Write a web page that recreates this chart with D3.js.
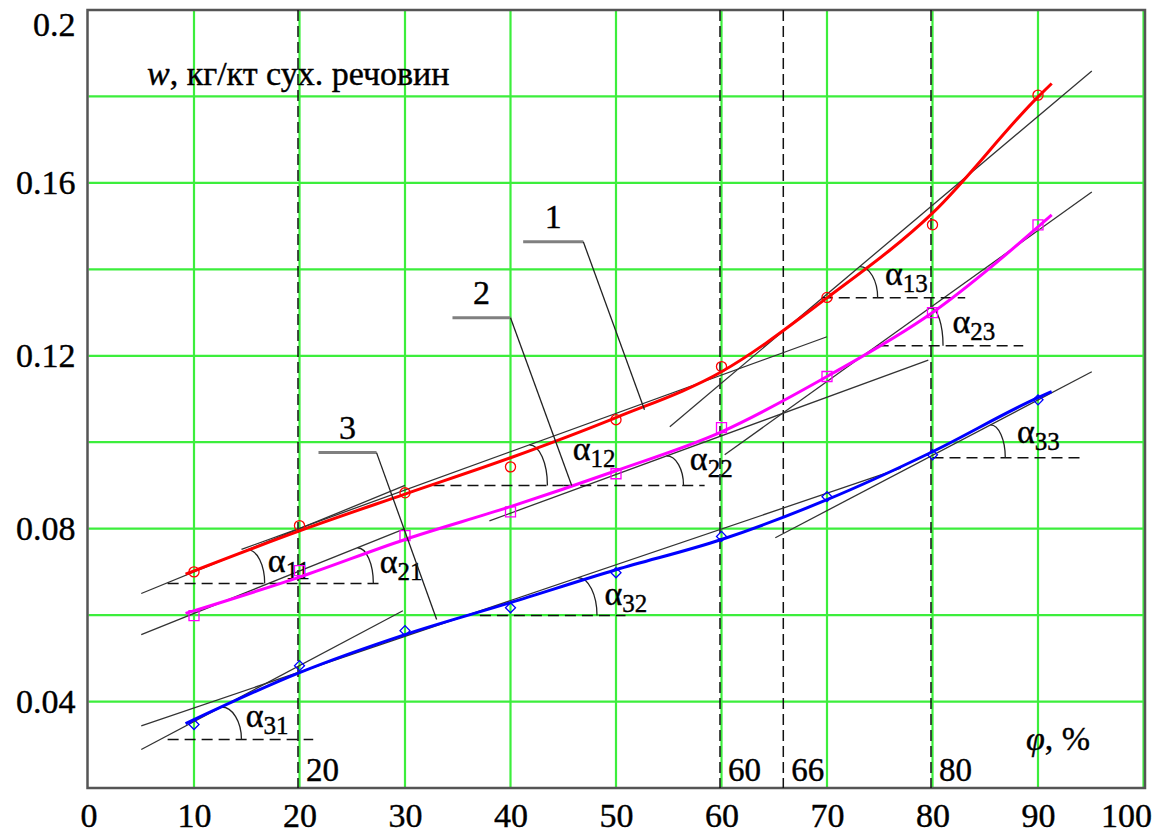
<!DOCTYPE html>
<html>
<head>
<meta charset="utf-8">
<title></title>
<style>
    body { margin: 0; background: #fff; }
    svg text { font-family: "Liberation Serif", Tinos, "Times New Roman", Times, "DejaVu Serif", serif !important; fill: #000; stroke: #000; stroke-width: 0.4px; }
    .tick text { font-size: 34px; }
</style>
</head>
<body>
<script src="https://cdnjs.cloudflare.com/ajax/libs/d3/7.8.5/d3.min.js"></script>
<script>

var w = 1156;
var h = 836;

// humidity phi, % (every curve is measured at the same points)
var phi = [10, 20, 30, 40, 50, 60, 70, 80, 90];
// measured points (markers)
var w1 = [0.070, 0.0807, 0.0883, 0.0943, 0.1052, 0.1175, 0.1335, 0.1503, 0.1803];
var w2 = [0.0599, 0.0703, 0.0784, 0.0839, 0.0927, 0.1034, 0.1152, 0.1300, 0.1503];
var w3 = [0.0347, 0.0483, 0.0564, 0.0617, 0.0698, 0.0782, 0.0874, 0.0971, 0.1098];

// smoothed curves
var curvePhi = [9.2, 20, 30, 40, 50, 60, 70, 80, 90, 91.3];
var curve1 = [0.0695, 0.0795, 0.0880, 0.0964, 0.1057, 0.1163, 0.1334, 0.1530, 0.1799, 0.1830];
var curve2 = [0.0604, 0.0688, 0.0775, 0.0851, 0.0934, 0.1024, 0.1152, 0.1300, 0.1498, 0.1526];
var curve3 = [0.0349, 0.0467, 0.0555, 0.0629, 0.0705, 0.0775, 0.0867, 0.0978, 0.1103, 0.1117];

// tangent lines [phi1, w1, phi2, w2]
var tangentNames = ["11", "12", "13", "21", "22", "23", "31", "32", "33"];
var tangentLines = [
    [5, 0.0650, 30, 0.0900],
    [14.5, 0.0752, 70, 0.1244],
    [55.1, 0.1036, 95.1, 0.1859],
    [5, 0.0555, 30, 0.0800],
    [38, 0.0818, 79.6, 0.1190],
    [60.3, 0.0971, 95.1, 0.1579],
    [5, 0.0289, 29.8, 0.0610],
    [5, 0.0344, 77, 0.0940],
    [65.1, 0.0779, 95.1, 0.1163]
];

// angle marks: base level, dashed from / to, arc foot, arc top (on tangent), label phi / w
var angleBase = [0.0673, 0.0900, 0.1334, 0.0673, 0.0900, 0.1223, 0.0312, 0.0599, 0.0964];
var angleDash = [[7.5, 20], [32.7, 45], [69.5, 83.1], [20, 27.9], [45, 58.4], [74.8, 88.6], [7.5, 21.3], [37.1, 50.9], [80, 94]];
var arcFoot = [16.7, 43.5, 74.8, 27.0, 56.4, 81.0, 14.5, 48.2, 86.9];
var arcTop = [15.1, 41.8, 73.1, 25.5, 54.8, 79.8, 12.6, 46.4, 85.5];
var angleLabelPos = [[17.0, 0.0699], [45.9, 0.0959], [75.5, 0.1364], [27.6, 0.0697], [57.0, 0.0936], [81.9, 0.1253], [14.9, 0.0340], [48.9, 0.0624], [88.0, 0.0999]];

// boundaries of regions
var boundaries = [20, 60, 66, 80];

// curve number leaders: [shelf start phi, shelf end phi, shelf w, end phi, end w]
var leaderNames = ["1", "2", "3"];
var leaders = [
    [41.2, 46.9, 0.1464, 52.7, 0.1075],
    [34.5, 40.0, 0.1288, 45.8, 0.0900],
    [21.8, 27.3, 0.0976, 33.0, 0.0590]
];

var xTicks = [0, 10, 20, 30, 40, 50, 60, 70, 80, 90, 100];
var yGrid = [0.04, 0.06, 0.08, 0.10, 0.12, 0.14, 0.16, 0.18, 0.20];
var yTicks = [0.04, 0.08, 0.12, 0.16, 0.2];
var yTickText = ["0.04", "0.08", "0.12", "0.16", "0.2"];

var svg = d3.select("body")
            .append("svg")
            .attr("width", w)
            .attr("height", h)
            .attr("font-family", "Liberation Serif, serif");

var xScale = d3.scaleLinear()
               .domain([0, 100])
               .range([88.5, 1143.5]);

var yScale = d3.scaleLinear()
               .domain([0.02, 0.2])
               .range([788, 10]);

// grid
svg.append("g")
    .selectAll("line")
    .data(xTicks.slice(1))
    .enter()
    .append("line")
    .attr("x1", function(d) { return xScale(d); })
    .attr("x2", function(d) { return xScale(d); })
    .attr("y1", yScale(0.2))
    .attr("y2", yScale(0.02))
    .attr("stroke", "#3cee3c")
    .attr("stroke-width", 2.2);

svg.append("g")
    .selectAll("line")
    .data(yGrid)
    .enter()
    .append("line")
    .attr("x1", xScale(0))
    .attr("x2", xScale(100))
    .attr("y1", function(d) { return yScale(d); })
    .attr("y2", function(d) { return yScale(d); })
    .attr("stroke", "#3cee3c")
    .attr("stroke-width", 2.2);

// frame
svg.append("rect")
    .attr("x", xScale(0) - 1)
    .attr("y", yScale(0.2))
    .attr("width", xScale(100) - xScale(0) + 2.5)
    .attr("height", yScale(0.02) - yScale(0.2))
    .attr("fill", "none")
    .attr("stroke", "#555")
    .attr("stroke-width", 2.5);

// axes (labels only)
var xAxis = d3.axisBottom(xScale).tickValues(xTicks).tickSize(0).tickPadding(15);
var gx = svg.append("g")
    .attr("class", "x axis")
    .attr("transform", "translate(0," + yScale(0.02) + ")")
    .call(xAxis);
gx.select(".domain").remove();
gx.attr("font-family", null);
// last label would run past the edge
gx.selectAll(".tick text")
    .filter(function(d) { return d === 100; })
    .attr("text-anchor", "end")
    .attr("x", 8);

var yAxis = d3.axisLeft(yScale).tickValues(yTicks).tickSize(0).tickPadding(13)
    .tickFormat(function(d, i) { return yTickText[i]; });
var gy = svg.append("g")
    .attr("class", "y axis")
    .attr("transform", "translate(" + xScale(0) + ",0)")
    .call(yAxis);
gy.select(".domain").remove();
gy.attr("font-family", null);
// top label would be cut off, it sits below its line
gy.selectAll(".tick text")
    .filter(function(d) { return d === 0.2; })
    .attr("y", 15);

// region boundaries
var gb = svg.append("g").attr("transform", "translate(-1.5,0)");
gb.selectAll("line")
    .data(boundaries)
    .enter()
    .append("line")
    .attr("x1", function(d) { return xScale(d); })
    .attr("x2", function(d) { return xScale(d); })
    .attr("y1", yScale(0.2))
    .attr("y2", yScale(0.02))
    .attr("stroke", "#111")
    .attr("stroke-width", 1.5)
    .attr("stroke-dasharray", "11,5");
gb.selectAll("text")
    .data(boundaries)
    .enter()
    .append("text")
    .attr("x", function(d) { return xScale(d) + 8; })
    .attr("y", 781)
    .attr("font-size", 33)
    .text(function(d) { return d; });

// tangents
svg.append("g")
    .selectAll("line")
    .data(tangentLines)
    .enter()
    .append("line")
    .attr("x1", function(d) { return xScale(d[0]); })
    .attr("y1", function(d) { return yScale(d[1]); })
    .attr("x2", function(d) { return xScale(d[2]); })
    .attr("y2", function(d) { return yScale(d[3]); })
    .attr("stroke", "#333")
    .attr("stroke-width", 1.3);

// angle marks
function onTangent(i, p) {
    var t = tangentLines[i];
    return t[1] + (p - t[0]) * (t[3] - t[1]) / (t[2] - t[0]);
}

var ga = svg.append("g");
angleBase.forEach(function(b, i) {
    ga.append("line")
        .attr("x1", xScale(angleDash[i][0]))
        .attr("x2", xScale(angleDash[i][1]))
        .attr("y1", yScale(b))
        .attr("y2", yScale(b))
        .attr("stroke", "#111")
        .attr("stroke-width", 1.5)
        .attr("stroke-dasharray", "11,6");

    var fx = xScale(arcFoot[i]), fy = yScale(b);
    var tx = xScale(arcTop[i]), ty = yScale(onTangent(i, arcTop[i]));
    ga.append("path")
        .attr("d", "M" + fx + "," + fy + " A" + (fx - tx) + "," + (fy - ty) + " 0 0 0 " + tx + "," + ty)
        .attr("fill", "none")
        .attr("stroke", "#222")
        .attr("stroke-width", 1.3);

    var t = ga.append("text")
        .attr("x", xScale(angleLabelPos[i][0]))
        .attr("y", yScale(angleLabelPos[i][1]))
        .attr("font-size", 34);
    t.append("tspan").text("α");
    t.append("tspan").attr("dy", 7).attr("font-size", 25).text(tangentNames[i]);
});

// curves
var line = d3.line()
    .x(function(d) { return xScale(d[0]); })
    .y(function(d) { return yScale(d[1]); })
    .curve(d3.curveMonotoneX);

var series = [
    { c: curve1, m: w1, color: "#ff0000", shape: "circle" },
    { c: curve2, m: w2, color: "#ff00ff", shape: "square" },
    { c: curve3, m: w3, color: "#0000ff", shape: "diamond" }
];

series.forEach(function(s) {
    svg.append("path")
        .datum(curvePhi.map(function(p, i) { return [p, s.c[i]]; }))
        .attr("d", line)
        .attr("fill", "none")
        .attr("stroke", s.color)
        .attr("stroke-width", 3);
});

var symbolType = { circle: d3.symbolCircle, square: d3.symbolSquare, diamond: d3.symbolSquare };
var symbolSize = { circle: 80, square: 100, diamond: 50 };

series.forEach(function(s) {
    svg.append("g")
        .selectAll("path")
        .data(phi.map(function(p, i) { return [p, s.m[i]]; }))
        .enter()
        .append("path")
        .attr("d", d3.symbol().type(symbolType[s.shape]).size(symbolSize[s.shape]))
        .attr("transform", function(d) {
            return "translate(" + xScale(d[0]) + "," + yScale(d[1]) + ")" + (s.shape === "diamond" ? " rotate(45)" : "");
        })
        .attr("fill", "none")
        .attr("stroke", s.color)
        .attr("stroke-width", 1.3);
});

// curve numbers
leaders.forEach(function(l, i) {
    svg.append("line")
        .attr("x1", xScale(l[0])).attr("x2", xScale(l[1]))
        .attr("y1", yScale(l[2])).attr("y2", yScale(l[2]))
        .attr("stroke", "#808080")
        .attr("stroke-width", 3);
    svg.append("line")
        .attr("x1", xScale(l[1])).attr("y1", yScale(l[2]))
        .attr("x2", xScale(l[3])).attr("y2", yScale(l[4]))
        .attr("stroke", "#222")
        .attr("stroke-width", 1.3);
    svg.append("text")
        .attr("x", (xScale(l[0]) + xScale(l[1])) / 2)
        .attr("y", yScale(l[2]) - 14)
        .attr("text-anchor", "middle")
        .attr("font-size", 34)
        .text(leaderNames[i]);
});

// axis titles
var yTitle = svg.append("text")
    .attr("x", 147)
    .attr("y", 85)
    .attr("font-size", 34);
yTitle.append("tspan").attr("font-style", "italic").text("w");
yTitle.append("tspan").text(", кг/кт сух. речовин");

var xTitle = svg.append("text")
    .attr("x", 1026)
    .attr("y", 750)
    .attr("font-size", 34);
xTitle.append("tspan").attr("font-style", "italic").text("φ");
xTitle.append("tspan").text(", %");

</script>
</body>
</html>
